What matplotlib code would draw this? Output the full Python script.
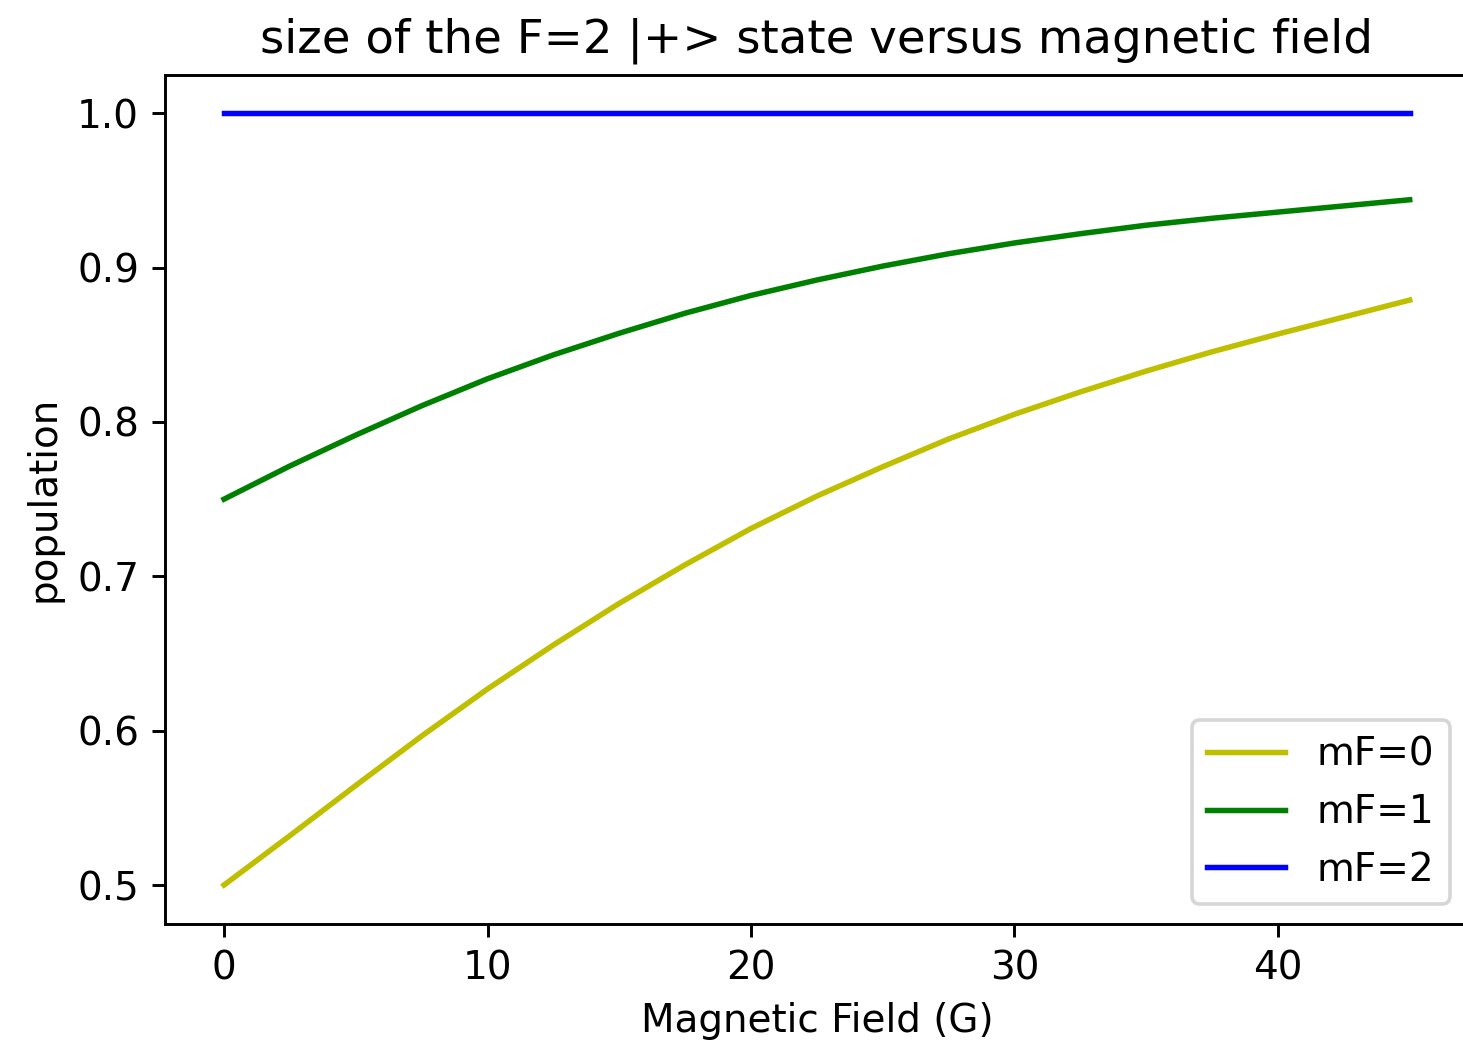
import numpy as np
import matplotlib
matplotlib.use('Agg')
import matplotlib.pyplot as plt

# Magnetic field values (G) and populations
field = [0, 2.5, 5, 7.5, 10, 12.5, 15, 17.5, 20, 22.5, 25, 27.5, 30, 32.5, 35, 37.5, 40, 42.5, 45]
pop_mf0 = [0.500, 0.532, 0.5645, 0.5965, 0.627, 0.6555, 0.6825, 0.7075, 0.731, 0.752,
           0.771, 0.789, 0.805, 0.8195, 0.833, 0.8455, 0.857, 0.868, 0.879]
pop_mf1 = [0.750, 0.7715, 0.7915, 0.8105, 0.828, 0.8435, 0.8575, 0.8705, 0.882, 0.892,
           0.901, 0.909, 0.916, 0.922, 0.9275, 0.932, 0.936, 0.940, 0.944]
pop_mf2 = [1.0] * len(field)

labels = ['mF=0', 'mF=1', 'mF=2']
colors = ['y', 'g', 'b']

# scale the default style up to the size of the reference image
s = 2.63
fs = 2.80
plt.rcParams.update({
    'font.size': 10 * fs,
    'lines.linewidth': 1.5 * s,
    'axes.linewidth': 0.8 * s,
    'patch.linewidth': 1.0 * s,
    'axes.titlepad': 6 * s,
    'axes.labelpad': 4 * s,
    'xtick.major.size': 3.5 * s,
    'ytick.major.size': 3.5 * s,
    'xtick.major.width': 0.8 * s,
    'ytick.major.width': 0.8 * s,
    'xtick.major.pad': 3.5 * s,
    'ytick.major.pad': 3.5 * s,
})

fig = plt.figure(figsize=(14.63, 10.48), dpi=100)
ax = fig.add_axes([0.1126, 0.1187, 0.8915, 0.810])

for pop, lab, col in zip([pop_mf0, pop_mf1, pop_mf2], labels, colors):
    ax.plot(field, pop, color=col, label=lab)

ax.set_xlabel('Magnetic Field (G)')
ax.set_ylabel('population')
ax.set_title('size of the F=2 |+> state versus magnetic field')
ax.set_xticks([0, 10, 20, 30, 40])
ax.set_yticks([0.5, 0.6, 0.7, 0.8, 0.9, 1.0])
ax.legend(loc='lower right')

fig.savefig('out.png', dpi=100)
